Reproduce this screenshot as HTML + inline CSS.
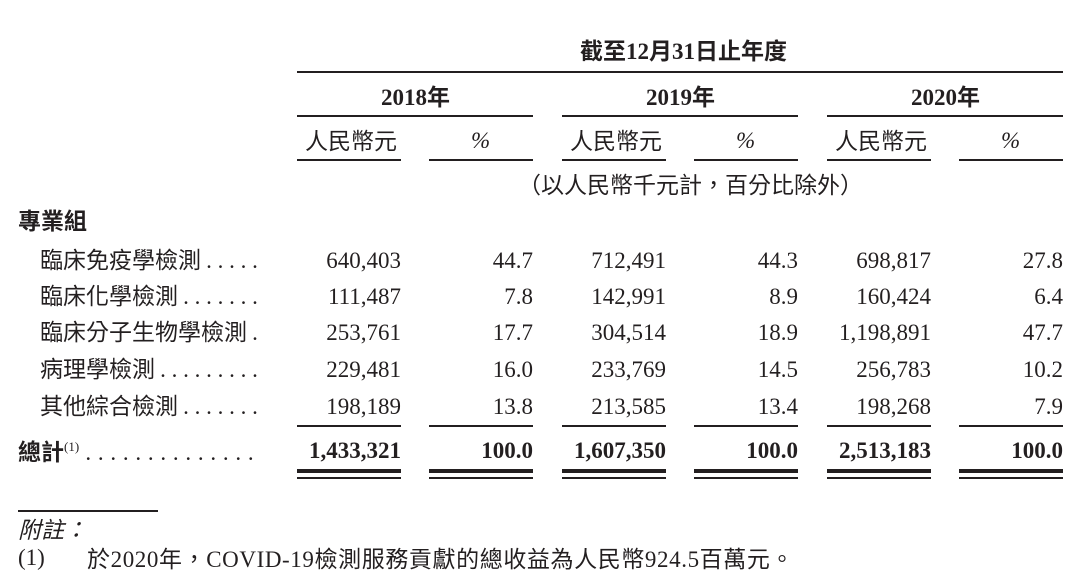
<!DOCTYPE html>
<html><head><meta charset="utf-8"><style>
body{margin:0;width:1080px;height:578px;background:#fff;position:relative;overflow:hidden;color:#231f20;font-family:"Liberation Serif","Noto Sans CJK TC",serif;}
.t{position:absolute;white-space:nowrap;font-size:23px;line-height:1;}
.c{font-family:"Noto Sans CJK TC",sans-serif;}
.l{position:absolute;background:#231f20;height:1.5px;}
.r{text-align:right;}
.b{font-weight:bold;}
</style></head><body>
<div class="t c b" style="left:580px;top:40px;font-family:'Liberation Serif','Noto Sans CJK TC',serif">截至12月31日止年度</div>
<div class="l" style="left:297px;top:71px;width:766px"></div>
<div class="t b" style="left:381px;top:84px">2018<span class="c">年</span></div>
<div class="t b" style="left:646px;top:84px">2019<span class="c">年</span></div>
<div class="t b" style="left:911px;top:84px">2020<span class="c">年</span></div>
<div class="l" style="left:297px;top:115px;width:236px"></div>
<div class="l" style="left:562px;top:115px;width:236px"></div>
<div class="l" style="left:827px;top:115px;width:236px"></div>
<div class="t c" style="left:305px;top:128px">人民幣元</div>
<div class="t" style="left:471px;top:129px;font-style:italic">%</div>
<div class="t c" style="left:570px;top:128px">人民幣元</div>
<div class="t" style="left:736px;top:129px;font-style:italic">%</div>
<div class="t c" style="left:835px;top:128px">人民幣元</div>
<div class="t" style="left:1001px;top:129px;font-style:italic">%</div>
<div class="l" style="left:297px;top:159px;width:104px"></div>
<div class="l" style="left:429px;top:159px;width:104px"></div>
<div class="l" style="left:562px;top:159px;width:104px"></div>
<div class="l" style="left:694px;top:159px;width:104px"></div>
<div class="l" style="left:827px;top:159px;width:104px"></div>
<div class="l" style="left:959px;top:159px;width:104px"></div>
<div class="t c" style="left:518px;top:172px">（以人民幣千元計，百分比除外）</div>
<div class="t c b" style="left:18px;top:208px">專業組</div>

<div class="t c" style="left:40px;top:247px">臨床免疫學檢測 <span style="font-family:'Liberation Serif'">. . . . .</span></div>
<div class="t c" style="left:40px;top:283px">臨床化學檢測 <span style="font-family:'Liberation Serif'">. . . . . . .</span></div>
<div class="t c" style="left:40px;top:319px">臨床分子生物學檢測 <span style="font-family:'Liberation Serif'">.</span></div>
<div class="t c" style="left:40px;top:356px">病理學檢測 <span style="font-family:'Liberation Serif'">. . . . . . . . .</span></div>
<div class="t c" style="left:40px;top:393px">其他綜合檢測 <span style="font-family:'Liberation Serif'">. . . . . . .</span></div>

<div id="nums"></div>
<script>
var rows=[[249,"640,403","44.7","712,491","44.3","698,817","27.8"],
[285,"111,487","7.8","142,991","8.9","160,424","6.4"],
[321,"253,761","17.7","304,514","18.9","1,198,891","47.7"],
[358,"229,481","16.0","233,769","14.5","256,783","10.2"],
[395,"198,189","13.8","213,585","13.4","198,268","7.9"],
[439,"1,433,321","100.0","1,607,350","100.0","2,513,183","100.0"]];
var rx=[401,533,666,798,931,1063],h="";
rows.forEach(function(r,i){for(var j=0;j<6;j++){h+='<div class="t r'+(i==5?' b':'')+'" style="right:'+(1080-rx[j])+'px;top:'+r[0]+'px">'+r[j+1]+'</div>';}});
var lx=[297,429,562,694,827,959];
lx.forEach(function(x){h+='<div class="l" style="left:'+x+'px;top:425px;width:104px"></div><div class="l" style="left:'+x+'px;top:469px;width:104px;height:4px"></div><div class="l" style="left:'+x+'px;top:477px;width:104px;height:2px"></div>';});
document.getElementById('nums').innerHTML=h;
</script>
<div class="t c b" style="left:18px;top:439px">總計<sup style="font-size:13px;font-family:'Liberation Serif';font-weight:normal;vertical-align:9px">(1)</sup><span style="font-family:'Liberation Serif';font-weight:normal;letter-spacing:0.5px"> . . . . . . . . . . . . . .</span></div>
<div class="l" style="left:18px;top:510px;width:140px"></div>
<div class="t c" style="left:18px;top:517px;font-size:23px;font-style:italic">附註：</div>
<div class="t" style="left:18px;top:546px;font-size:23px">(1)</div>
<div class="t" style="left:87px;top:546px;font-size:23px;letter-spacing:0.6px"><span class="c">於</span>2020<span class="c">年，</span>COVID-19<span class="c">檢測服務貢獻的總收益為人民幣</span>924.5<span class="c">百萬元。</span></div>
</body></html>
